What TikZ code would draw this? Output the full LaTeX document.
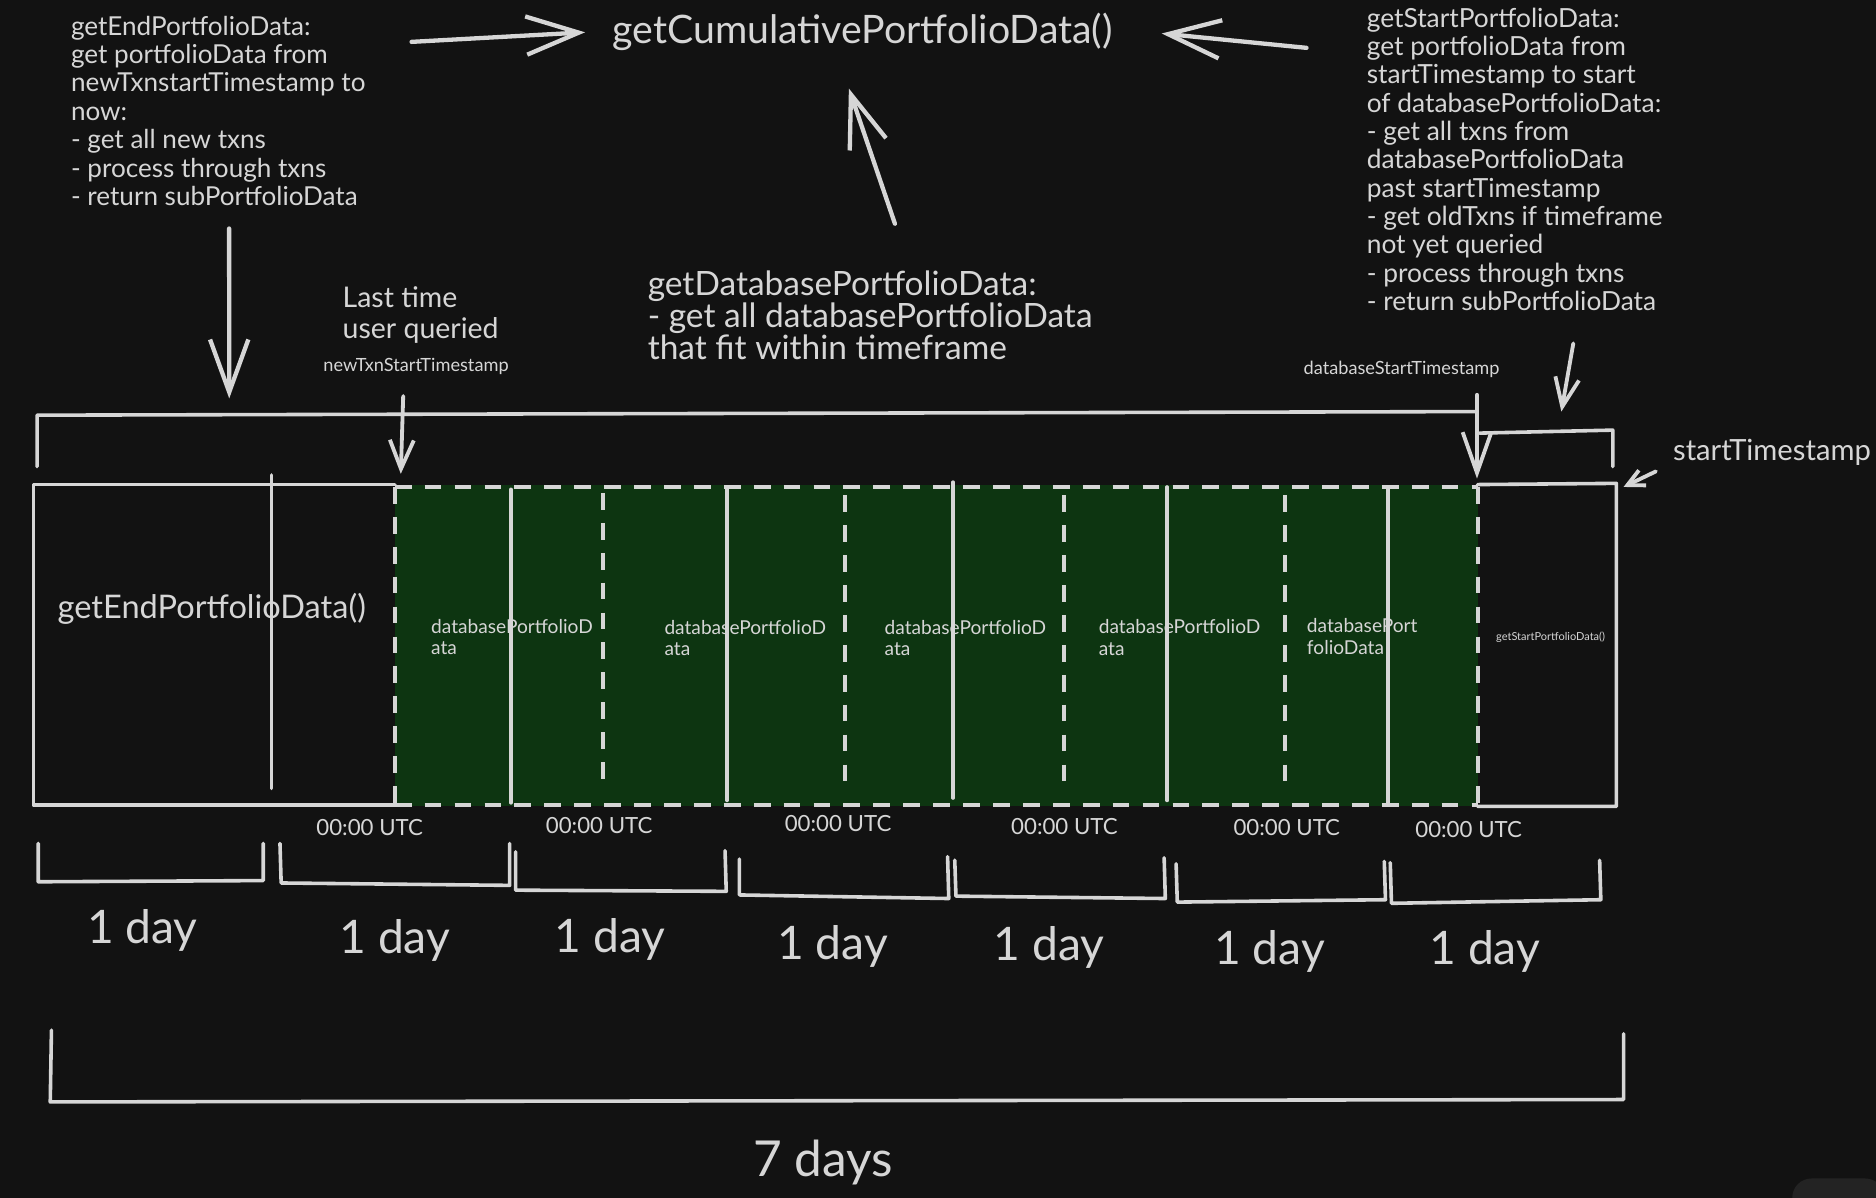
\documentclass[tikz,border=0pt]{standalone}
\usepackage{fontspec}
\setmainfont{Lato}
\usetikzlibrary{arrows.meta}
\definecolor{bg}{HTML}{121212}
\definecolor{ink}{HTML}{D6D6D6}
\definecolor{dbgreen}{HTML}{0D3511}
\definecolor{chip}{HTML}{232323}
\newcommand\myfs[2]{\fontsize{#1}{#2}\selectfont}
\tikzset{
  ln/.style={draw=ink, line width=1.5pt, line cap=round, line join=round},
  dl/.style={draw=ink, line width=1.7pt, dash pattern=on 7pt off 5.5pt, line cap=butt},
  arrbig/.style={ln, line width=1.8pt, -{Straight Barb[length=22pt,width=16pt,line width=1.8pt]}},
  arrmid/.style={ln, line width=1.6pt, -{Straight Barb[length=17pt,width=12pt,line width=1.6pt]}},
  arrsml/.style={ln, line width=1.6pt, -{Straight Barb[length=12pt,width=10pt,line width=1.6pt]}},
  arrtiny/.style={ln, line width=1.6pt, -{Straight Barb[length=7pt,width=7pt,line width=1.6pt]}},
  txt/.style={text=ink, inner sep=0pt, align=left},
  blk/.style={txt, anchor=north west},
  dbl/.style={blk, font=\myfs{8}{9}},
  utc/.style={txt, font=\myfs{9.3}{10}},
  day/.style={txt, font=\myfs{19.3}{21}},
}
\begin{document}
\begin{tikzpicture}[x=0.5pt,y=-0.5pt]
\fill[bg] (0,0) rectangle (1568,1001);
\useasboundingbox (0,0) rectangle (1568,1001);
\fill[chip, rounded corners=8pt] (1498,985) rectangle (1575,1030);

% ---------- texts at top ----------
\node[blk, font=\myfs{10.9}{11.85}] (endtxt) at (59,13) {getEndPortfolioData:\\get portfolioData from\\newTxnstartTimestamp to\\now:\\- get all new txns\\- process through txns\\- return subPortfolioData};
\node[txt, anchor=base, font=\myfs{16.4}{18}] (title) at (721,36) {getCumulativePortfolioData()};
\node[blk, font=\myfs{11}{11.85}] (starttxt) at (1142,6) {getStartPortfolioData:\\get portfolioData from\\startTimestamp to start\\of databasePortfolioData:\\- get all txns from\\databasePortfolioData\\past startTimestamp\\- get oldTxns if timeframe\\not yet queried\\- process through txns\\- return subPortfolioData};
\node[blk, font=\myfs{14}{13.3}] (dbtxt) at (541,226) {getDatabasePortfolioData:\\- get all databasePortfolioData\\that fit within timeframe};
\node[blk, font=\myfs{11.9}{13.1}] (lasttime) at (286,239) {Last time\\user queried};
\node[txt, anchor=base, font=\myfs{7.6}{9}] (ntslbl) at (347.7,310.7) {newTxnStartTimestamp};
\node[txt, anchor=base, font=\myfs{7.6}{9}] (dstlbl) at (1171.5,312.7) {databaseStartTimestamp};
\node[txt, anchor=base west, font=\myfs{12.2}{13}] (stlbl) at (1398,384.5) {startTimestamp};

% ---------- arrows at top ----------
\coordinate (a1s) at (344,35);   \coordinate (a1e) at (489,27);
\coordinate (a2s) at (1092,40);  \coordinate (a2e) at (971,28);
\coordinate (a3s) at (748,187);  \coordinate (a3e) at (709.5,74);
\coordinate (a4s) at (191.5,191);\coordinate (a4e) at (191.6,333);
\coordinate (a5s) at (337,331);  \coordinate (a5e) at (335,396);
\coordinate (a6s) at (1234.5,330); \coordinate (a6e) at (1234.5,400);
\coordinate (a7s) at (1315,287); \coordinate (a7e) at (1305,344);
\coordinate (a8s) at (1384,394); \coordinate (a8e) at (1357,407);

% ---------- main bar ----------
\fill[dbgreen] (330,405) rectangle (1235,674);
\draw[ln] (330,405) -- (28,405) -- (28,673) -- (330,673);
\draw[ln] (1235,405) -- (1351,404) -- (1351,674) -- (1235,674);
\draw[dl] (330,407) -- (1235,407);
\draw[dl] (330,673) -- (1235,673);
\draw[dl] (330,407) -- (330,673);
\draw[dl] (1235,407) -- (1235,673);
% solid day separators
\draw[ln] (227,397) -- (227,659);
\draw[ln] (427,409) -- (427,671);
\draw[ln] (607.6,409) -- (607.6,669);
\draw[ln] (796.6,403) -- (796.6,667);
\draw[ln] (975.5,407) -- (975.5,669);
\draw[ln] (1160,407) -- (1160,671);
% dashed separators
\draw[dl] (504,412) -- (504,656);
\draw[dl] (706,414) -- (706,660);
\draw[dl] (889.5,414) -- (889.5,660);
\draw[dl] (1073.7,414) -- (1073.7,660);

% labels in bar
\node[txt, anchor=base, font=\myfs{13.6}{15}] (endfn) at (177,517) {getEndPortfolioData()};
\node[dbl] (db1) at (360,517.2) {databasePortfolioD\\ata};
\node[dbl] (db2) at (555,518) {databasePortfolioD\\ata};
\node[dbl] (db3) at (739,518) {databasePortfolioD\\ata};
\node[dbl] (db4) at (918,517.5) {databasePortfolioD\\ata};
\node[dbl] (db5) at (1092,516.5) {databasePort\\folioData};
\node[txt, font=\myfs{4.6}{5}] (startfn) at (1296,532.6) {getStartPortfolioData()};

% ---------- top brackets ----------
\draw[ln] (31,390) -- (31,347) -- (1234.5,344);
\draw[ln] (1236.6,362) -- (1348,359.5) -- (1348,390);

\draw[arrbig] (a1s) -- (a1e);
\draw[arrbig] (a2s) -- (a2e);
\draw[arrbig] (a3s) -- (a3e);
\draw[arrbig] (a4s) -- (a4e);
\draw[arrsml] (a5s) -- (a5e);
\draw[arrmid] (a6s) -- (a6e);
\draw[arrsml] (a7s) -- (a7e);
\draw[arrtiny] (a8s) -- (a8e);

% ---------- 00:00 UTC ----------
\node[utc] (u1) at (309,692) {00:00 UTC};
\node[utc] (u2) at (500.8,689.6) {00:00 UTC};
\node[utc] (u3) at (700.5,688) {00:00 UTC};
\node[utc] (u4) at (889.7,691) {00:00 UTC};
\node[utc] (u5) at (1075.5,692) {00:00 UTC};
\node[utc] (u6) at (1227.5,693) {00:00 UTC};

% ---------- day brackets ----------
\draw[ln] (32,705) -- (32,737) -- (220,736) -- (220,705);
\draw[ln] (234,705) -- (235,738) -- (426,740) -- (426,705);
\draw[ln] (431,712) -- (431,744) -- (607,745) -- (606,711);
\draw[ln] (618,718) -- (618,748) -- (793,751) -- (792,716);
\draw[ln] (798,719) -- (799,749) -- (974,751) -- (973,717);
\draw[ln] (983,722) -- (984,754) -- (1158,752) -- (1157,720);
\draw[ln] (1162,721) -- (1163,755) -- (1338,752) -- (1337,719);

\node[day] (d1) at (119,778) {1 day};
\node[day] (d2) at (330,786) {1 day};
\node[day] (d3) at (510,785) {1 day};
\node[day] (d4) at (696,790.7) {1 day};
\node[day] (d5) at (877,792) {1 day};
\node[day] (d6) at (1061,795) {1 day};
\node[day] (d7) at (1241,795) {1 day};

% ---------- 7 days bracket ----------
\draw[ln] (43,861) -- (42,921) -- (1357,919) -- (1357,864);
\node[txt, font=\myfs{20.7}{22}] (week) at (688,972) {7 days};
\end{tikzpicture}
\end{document}
